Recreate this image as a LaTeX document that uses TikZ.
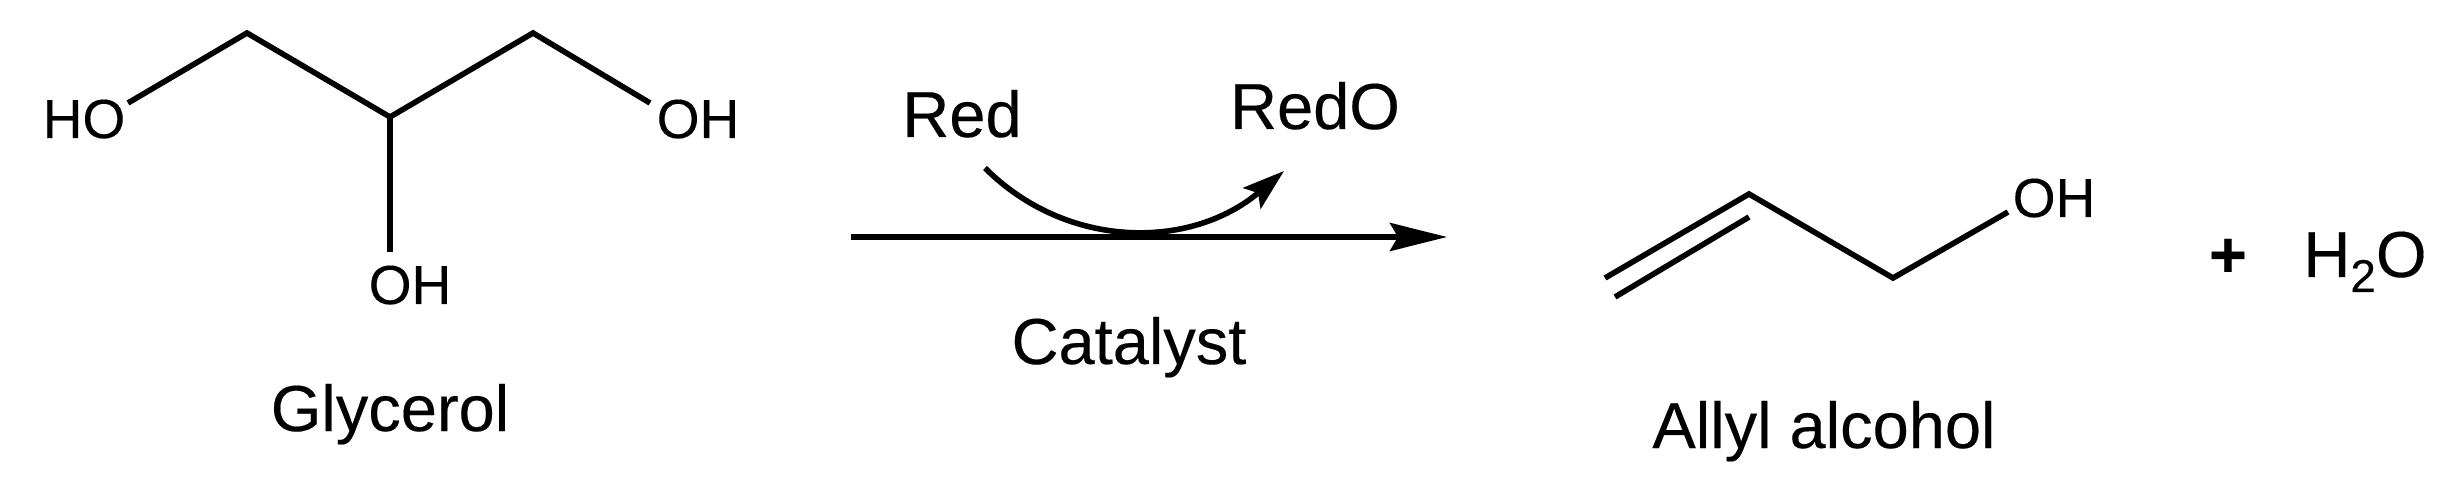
\documentclass[tikz,border=0pt]{standalone}
\usepackage{fontspec}
\setmainfont{Liberation Sans}[FakeBold=0.25,Kerning=Off,BoldFont={Liberation Sans Bold}]
\usetikzlibrary{arrows.meta}
\tikzset{
  x=0.5pt,y=-0.5pt,
  bond/.style={line width=2.8pt,line join=miter,line cap=butt},
  atomlabel/.style={anchor=base,inner sep=0pt,font=\fontsize{27.5}{30}\selectfont},
  bigtext/.style={anchor=base,inner sep=0pt,font=\fontsize{32.5}{36}\selectfont},
  mainarrow/.style={line width=2.8pt,-{Stealth[length=28.5pt,width=14pt,inset=4pt]}},
  curvearrow/.style={line width=2.8pt,-{Stealth[length=21pt,width=13.5pt,inset=4pt]}},
}
\begin{document}
\begin{tikzpicture}
\useasboundingbox (0,0) rectangle (2462,491);
% glycerol
\coordinate (g1) at (128,103);
\coordinate (g2) at (247,33);
\coordinate (g3) at (390,117);
\coordinate (g4) at (533,33);
\coordinate (g5) at (650,103);
\coordinate (g6) at (390,252);
\node[atomlabel] (ho) at (84,138) {HO};
\node[atomlabel] (ohr) at (698,138) {OH};
\node[atomlabel] (ohb) at (410,304) {OH};
\node[bigtext] (gly) at (390,431) {Glycerol};
\draw[bond] (g1) -- (g2) -- (g3) -- (g4) -- (g5);
\draw[bond] (g3) -- (g6);
% reaction arrow
\coordinate (a1) at (851,237);
\coordinate (a2) at (1447,237);
\coordinate (c1) at (985,168);
\coordinate (c2) at (1284,171);
\draw[mainarrow] (a1) -- (a2);
\draw[curvearrow] (c1) .. controls (1067,250) and (1191,250) .. (c2);
\node[bigtext] (red) at (962,137) {Red};
\node[bigtext] (redo) at (1315,129) {RedO};
\node[bigtext] (cat) at (1129,364) {Catalyst};
% allyl alcohol
\coordinate (p1) at (1605,278);
\coordinate (p2) at (1749,194);
\coordinate (p3) at (1893,278);
\coordinate (p4) at (2008,212);
\coordinate (q1) at (1615,297);
\coordinate (q2) at (1749,217);
\draw[bond] (p1) -- (p2) -- (p3) -- (p4);
\draw[bond] (q1) -- (q2);
\node[atomlabel] (oha) at (2054,217) {OH};
\node[bigtext] (ally) at (1824,448) {Allyl alcohol};
\node[bigtext,font=\fontsize{32.5}{36}\selectfont\bfseries] (plus) at (2228,277) {+};
\node[bigtext,anchor=base west] (water) at (2303,277) {H\raisebox{-7.5pt}{\fontsize{23}{25}\selectfont 2}O};
\end{tikzpicture}
\end{document}
